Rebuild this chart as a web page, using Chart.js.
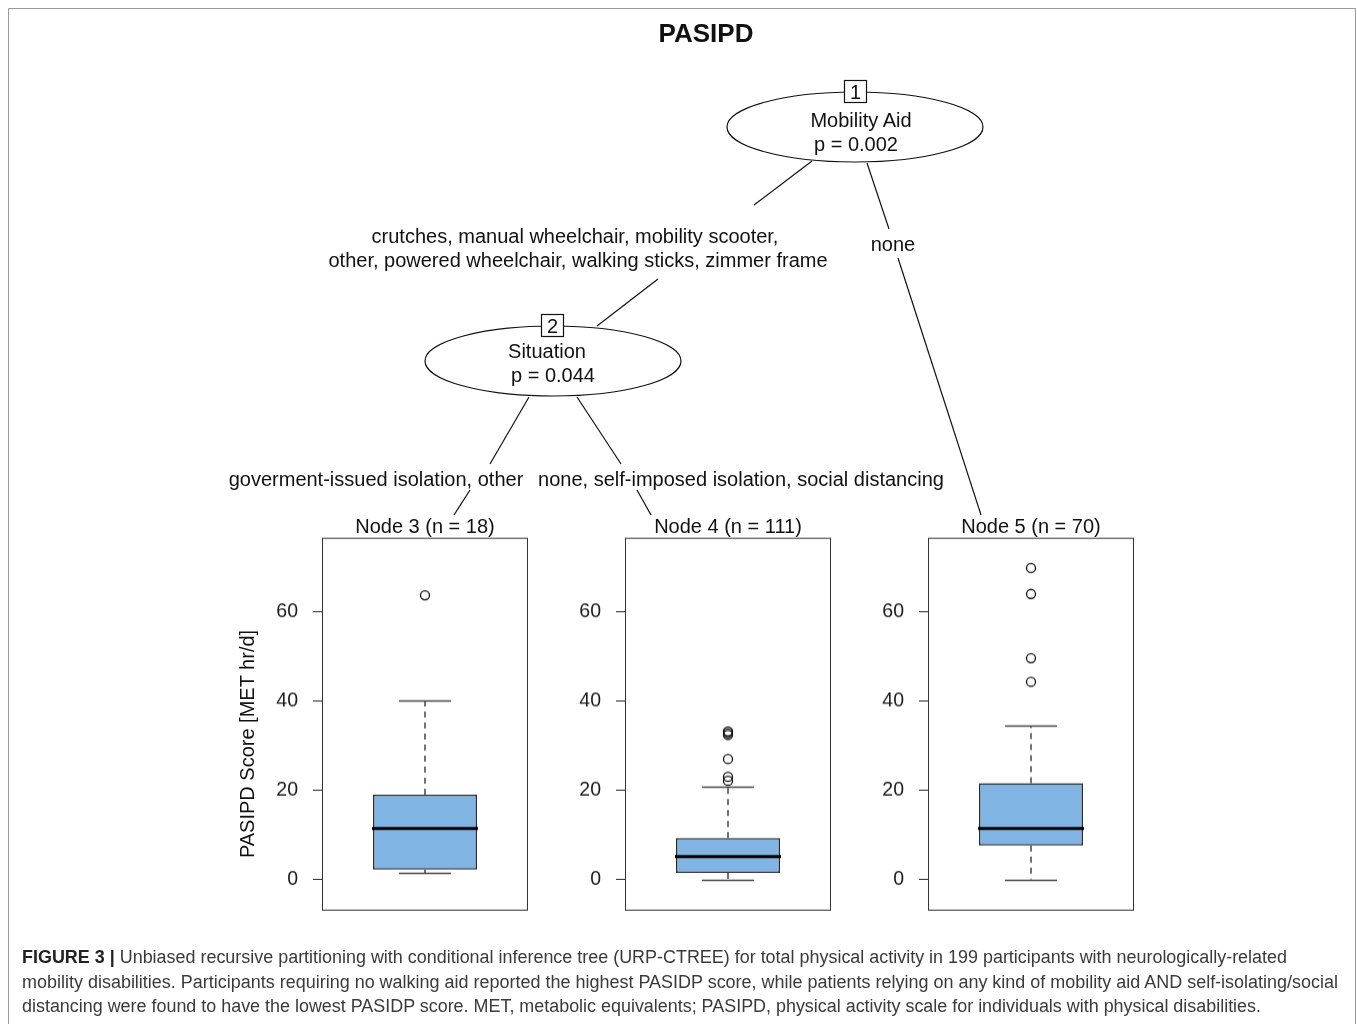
<!DOCTYPE html>
<html>
<head>
<meta charset="utf-8">
<script src="https://cdn.jsdelivr.net/npm/chart.js@4.4.1/dist/chart.umd.min.js"></script>
<style>
  html, body { margin: 0; padding: 0; background: #fff; }
  body { width: 1357px; height: 1024px; position: relative; overflow: hidden; font-family: "Liberation Sans", Arial, Helvetica, sans-serif; }
  .panel { position: absolute; }
  #tree { position: absolute; left: 0; top: 0; pointer-events: none; }
</style>
</head>
<body>

<div class="panel" id="wrap3"><canvas id="node3" width="270" height="396"></canvas></div>
<div class="panel" id="wrap4"><canvas id="node4" width="270" height="396"></canvas></div>
<div class="panel" id="wrap5"><canvas id="node5" width="270" height="396"></canvas></div>

<svg id="tree" width="1357" height="1024" xmlns="http://www.w3.org/2000/svg"
     font-family="Liberation Sans, Arial, Helvetica, sans-serif" fill="#111">
  <!-- figure frame -->
  <path d="M8.5 1024 V8.5 H1355.5 V1024" fill="none" stroke="#9a9a9a" stroke-width="1"/>
  <text x="706" y="42" font-size="26" font-weight="bold" text-anchor="middle">PASIPD</text>

  <g stroke="#111" stroke-width="1.2" fill="none">
    <!-- node 1 edges -->
    <line x1="812" y1="161" x2="754" y2="205"/>
    <line x1="658" y1="279" x2="597" y2="326"/>
    <line x1="867" y1="163" x2="889" y2="229"/>
    <line x1="898" y1="258" x2="981" y2="515"/>
    <!-- node 2 edges -->
    <line x1="529" y1="397" x2="490" y2="464"/>
    <line x1="470" y1="490" x2="454" y2="515"/>
    <line x1="577" y1="397" x2="621" y2="464"/>
    <line x1="637" y1="490" x2="651" y2="515"/>
    <!-- inner nodes -->
    <ellipse cx="855" cy="127" rx="128" ry="35" fill="#fff"/>
    <ellipse cx="553" cy="361" rx="128" ry="35" fill="#fff"/>
    <rect x="844.5" y="80.5" width="22" height="22" fill="#fff"/>
    <rect x="541.5" y="314.5" width="22" height="22" fill="#fff"/>
  </g>

  <g font-size="20" text-anchor="middle">
    <text x="855.5" y="98.5">1</text>
    <text x="552.5" y="332.5">2</text>
    <text x="861" y="127">Mobility Aid</text>
    <text x="856" y="151">p = 0.002</text>
    <text x="547" y="358">Situation</text>
    <text x="553" y="382">p = 0.044</text>
    <text x="575" y="243">crutches, manual wheelchair, mobility scooter,</text>
    <text x="578" y="267">other, powered wheelchair, walking sticks, zimmer frame</text>
    <text x="893" y="251">none</text>
    <text x="376" y="486">goverment-issued isolation, other</text>
    <text x="741" y="486">none, self-imposed isolation, social distancing</text>
    <text x="425" y="533">Node 3 (n = 18)</text>
    <text x="728" y="533">Node 4 (n = 111)</text>
    <text x="1031" y="533">Node 5 (n = 70)</text>
    <text x="0" y="0" transform="translate(254 744) rotate(-90)">PASIPD Score [MET hr/d]</text>
  </g>

  <g font-size="18" fill="#3a3a3a">
    <text x="22" y="963" textLength="1265" lengthAdjust="spacingAndGlyphs"><tspan font-weight="bold" fill="#222">FIGURE 3 |</tspan> Unbiased recursive partitioning with conditional inference tree (URP-CTREE) for total physical activity in 199 participants with neurologically-related</text>
    <text x="22" y="988" textLength="1316" lengthAdjust="spacingAndGlyphs">mobility disabilities. Participants requiring no walking aid reported the highest PASIDP score, while patients relying on any kind of mobility aid AND self-isolating/social</text>
    <text x="22" y="1012" textLength="1239" lengthAdjust="spacingAndGlyphs">distancing were found to have the lowest PASIDP score. MET, metabolic equivalents; PASIPD, physical activity scale for individuals with physical disabilities.</text>
  </g>
</svg>

<script>
// Terminal nodes of the tree: boxplot summaries of PASIPD score
const nodeIds = ["node3", "node4", "node5"];
const whiskerLow = [1.4, 0, 0];
const q1 = [2.2, 1.5, 7.6];
const median = [11.4, 5.1, 11.4];
const q3 = [19.0, 9.3, 21.6];
const whiskerHigh = [40.1, 20.8, 34.4];
const outliers = [
    [63.7],
    [22.1, 23.0, 27.0, 32.4, 32.8, 33.2],
    [44.3, 49.6, 64.0, 69.8],
];
const yTicks = [0, 20, 40, 60];

// where each panel's plot box sits on the page
const panelLeft = [322, 625, 928];
const panelTop = 538;
const panelW = 206;
const panelH = 372;

// whiskers, caps, median and the panel frame
const boxExtras = {
    id: "boxExtras",
    afterDatasetsDraw(chart, args, opts) {
        const i = opts.index;
        const ctx = chart.ctx;
        const y = chart.scales.y;
        const bar = chart.getDatasetMeta(0).data[0];
        const cx = bar.x;
        const half = bar.width / 2;
        const cap = bar.width / 4;
        ctx.save();
        ctx.strokeStyle = "#444";
        ctx.lineWidth = 1.5;
        ctx.setLineDash([6, 5]);
        ctx.beginPath();
        ctx.moveTo(cx, y.getPixelForValue(q3[i]));
        ctx.lineTo(cx, y.getPixelForValue(whiskerHigh[i]));
        ctx.moveTo(cx, y.getPixelForValue(q1[i]));
        ctx.lineTo(cx, y.getPixelForValue(whiskerLow[i]));
        ctx.stroke();
        ctx.setLineDash([]);
        ctx.beginPath();
        [whiskerHigh[i], whiskerLow[i]].forEach((v) => {
            const py = Math.round(y.getPixelForValue(v)) + 0.5;
            ctx.moveTo(cx - cap, py);
            ctx.lineTo(cx + cap, py);
        });
        ctx.stroke();
        // median
        ctx.strokeStyle = "#000";
        ctx.lineWidth = 3;
        ctx.beginPath();
        const my = y.getPixelForValue(median[i]);
        ctx.moveTo(cx - half - 1, my);
        ctx.lineTo(cx + half + 1, my);
        ctx.stroke();
        // frame
        const a = chart.chartArea;
        ctx.strokeStyle = "#333";
        ctx.lineWidth = 1;
        ctx.strokeRect(a.left + 0.5, a.top + 0.5, a.right - a.left - 1, a.bottom - a.top - 1);
        ctx.restore();
    },
};

nodeIds.forEach((id, i) => {
    const chart = new Chart(document.getElementById(id), {
        type: "bar",
        data: {
            labels: ["box"],
            datasets: [
                {
                    type: "bar",
                    data: [[q1[i], q3[i]]],
                    backgroundColor: "#80b4e2",
                    borderColor: "#2a2a2a",
                    borderWidth: 1.5,
                    borderSkipped: false,
                    barPercentage: 0.505,
                    categoryPercentage: 1,
                    order: 2,
                },
                {
                    type: "line",
                    showLine: false,
                    data: outliers[i].map((v) => ({ x: "box", y: v })),
                    pointStyle: "circle",
                    pointRadius: 4.5,
                    pointBackgroundColor: "rgba(0,0,0,0)",
                    pointBorderColor: "#111",
                    pointBorderWidth: 1.3,
                    order: 1,
                },
            ],
        },
        options: {
            responsive: false,
            maintainAspectRatio: false,
            animation: false,
            layout: { autoPadding: false, padding: 0 },
            plugins: {
                legend: { display: false },
                tooltip: { enabled: false },
                boxExtras: { index: i },
            },
            scales: {
                x: { display: false },
                y: {
                    min: -7,
                    max: 76.6,
                    afterBuildTicks: (axis) => {
                        axis.ticks = yTicks.map((v) => ({ value: v }));
                    },
                    afterFit: (axis) => {
                        axis.width = 60;
                    },
                    border: { display: false },
                    grid: {
                        drawOnChartArea: false,
                        drawTicks: true,
                        tickLength: 9,
                        color: "#222",
                    },
                    ticks: {
                        padding: 15,
                        color: "#1a1a1a",
                        font: { family: "Liberation Sans, Arial, sans-serif", size: 19.5 },
                    },
                },
            },
        },
        plugins: [boxExtras],
    });

    // size the canvas so the plot box is panelW x panelH, then place it
    let a = chart.chartArea;
    const w = chart.width + (panelW - (a.right - a.left));
    const h = chart.height + (panelH - (a.bottom - a.top));
    chart.resize(w, h);
    a = chart.chartArea;
    const wrap = document.getElementById("wrap" + id.slice(4));
    wrap.style.left = (panelLeft[i] - a.left) + "px";
    wrap.style.top = (panelTop - a.top) + "px";
});
</script>
</body>
</html>
